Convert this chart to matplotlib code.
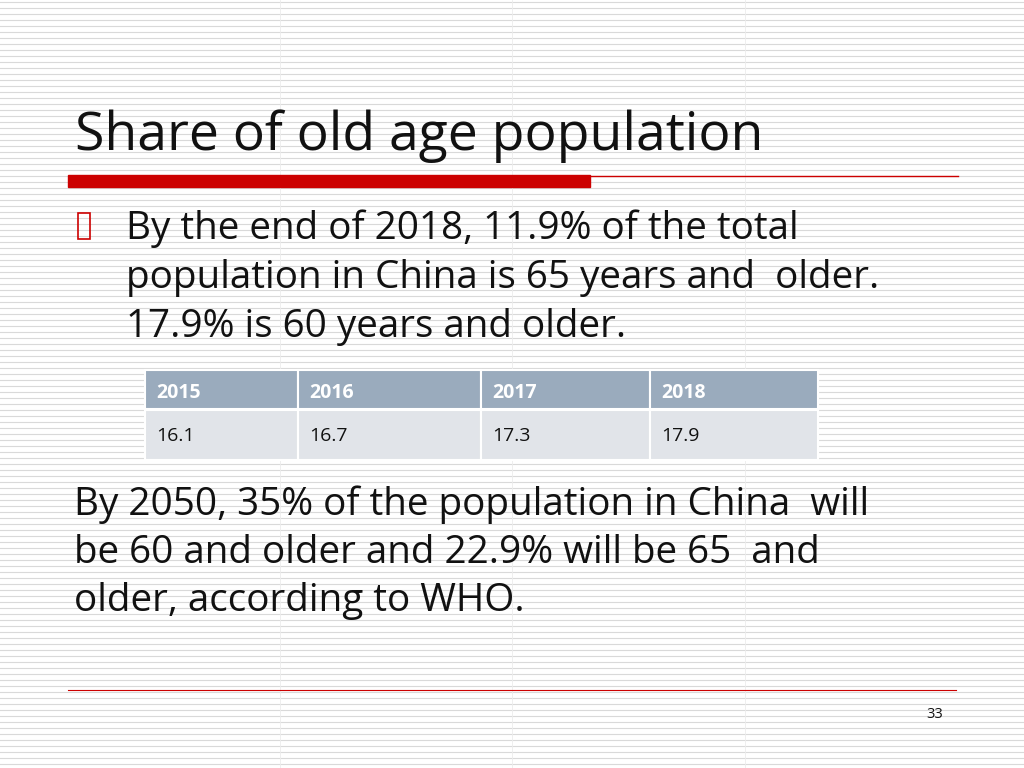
import matplotlib.pyplot as plt
import matplotlib.patches as patches

years = ["2015", "2016", "2017", "2018"]
shares = ["16.1", "16.7", "17.3", "17.9"]
title = "Share of old age population"
bullet_lines = ["By the end of 2018, 11.9% of the total",
                "population in China is 65 years and  older.",
                "17.9% is 60 years and older."]
para_lines = ["By 2050, 35% of the population in China  will",
              "be 60 and older and 22.9% will be 65  and",
              "older, according to WHO."]
page_no = "33"

plt.rcParams['font.family'] = ['Open Sans', 'DejaVu Sans']

fig = plt.figure(figsize=(10.24, 7.68), dpi=100)
ax = fig.add_axes([0, 0, 1, 1])
ax.set_xlim(0, 1024)
ax.set_ylim(768, 0)
ax.axis('off')

# striped background
for y in range(2, 768, 6):
    ax.plot([0, 1024], [y, y], color='#d9d9d9', lw=0.8, zorder=0)
for x in (280, 512, 745):
    ax.plot([x, x], [0, 768], color='#ececec', lw=0.6, zorder=0)

ax.text(75, 136, title, fontsize=38.5, va='center', ha='left', color='#111111')
ax.add_patch(patches.Rectangle((68, 175), 522, 12, color='#cc0000', zorder=2))
ax.plot([590, 958], [176, 176], color='#cc0000', lw=1)

ax.add_patch(patches.Rectangle((78, 213), 12, 26, fill=False, ec='#cc0000', lw=1.2, zorder=2))
for i, line in enumerate(bullet_lines):
    ax.text(126, 229 + i * 49, line, fontsize=27.8, va='center', ha='left', color='#111111')

# table
col_x = [145, 298, 481, 650, 818]
for i in range(4):
    w = col_x[i + 1] - col_x[i]
    ax.add_patch(patches.Rectangle((col_x[i], 370), w, 39, color='#9aabbd', ec='white', lw=1.5, zorder=2))
    ax.add_patch(patches.Rectangle((col_x[i], 410), w, 50, color='#e1e4e9', ec='white', lw=1.5, zorder=2))
    ax.text(col_x[i] + 11, 393, years[i], fontsize=14, fontweight='bold', color='white', va='center', zorder=3)
    ax.text(col_x[i] + 11, 436, shares[i], fontsize=14, color='#111111', va='center', zorder=3)

for i, line in enumerate(para_lines):
    ax.text(74, 505 + i * 48, line, fontsize=27.8, va='center', ha='left', color='#111111')

ax.plot([68, 956], [690, 690], color='#cc0000', lw=0.8)
ax.text(943, 715, page_no, fontsize=10.5, ha='right', va='center', color='#111111')

fig.savefig('out.png', dpi=100)
